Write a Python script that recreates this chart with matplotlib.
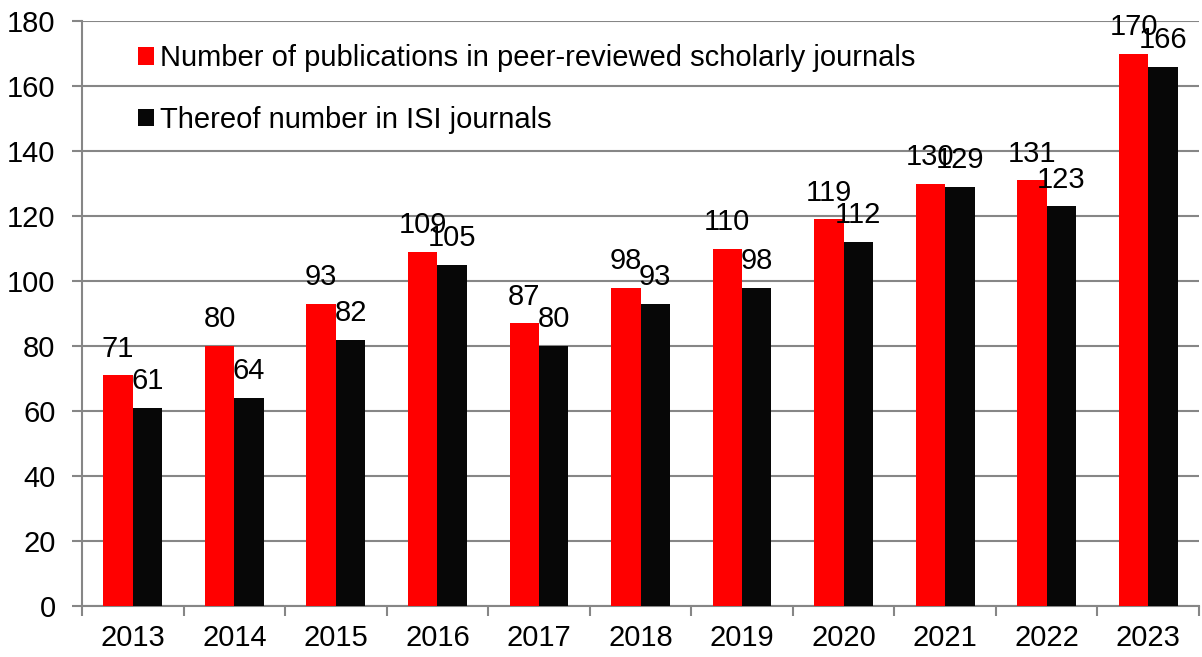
import matplotlib.pyplot as plt
import numpy as np

years = ["2013", "2014", "2015", "2016", "2017", "2018", "2019", "2020", "2021", "2022", "2023"]
peer_reviewed = [71, 80, 93, 109, 87, 98, 110, 119, 130, 131, 170]
isi_journals = [61, 64, 82, 105, 80, 93, 98, 112, 129, 123, 166]

plt.rcParams["font.family"] = ["Liberation Sans", "DejaVu Sans"]

fig = plt.figure(figsize=(12.02, 6.57), dpi=100)
ax = fig.add_axes([82 / 1202, 1 - 606 / 657, (1199 - 82) / 1202, (606 - 21) / 657])

x = np.arange(len(years))
w = 0.29
bars_red = ax.bar(x - w / 2, peer_reviewed, w, color="#ff0000", zorder=3,
                  label="Number of publications in peer-reviewed scholarly journals")
bars_blk = ax.bar(x + w / 2, isi_journals, w, color="#070707", zorder=3,
                  label="Thereof number in ISI journals")

for bars, vals in ((bars_red, peer_reviewed), (bars_blk, isi_journals)):
    for b, v in zip(bars, vals):
        ax.annotate(str(v), (b.get_x() + b.get_width() / 2, v), xytext=(0, 9),
                    textcoords="offset points", ha="center", va="bottom",
                    fontsize=21, zorder=4)

ax.set_xlim(-0.5, len(years) - 0.5)
ax.set_ylim(0, 180)
ax.set_yticks(range(0, 181, 20))
ax.set_xticks(x)
ax.set_xticklabels(years)
ax.set_xticks(np.arange(-0.5, len(years)), minor=True)
ax.tick_params(axis="x", which="major", length=0, labelsize=21, pad=13)
ax.tick_params(axis="x", which="minor", length=7, color="#868686", width=1.5)
ax.tick_params(axis="y", length=7, color="#868686", width=1.5, labelsize=21, pad=12)

ax.yaxis.grid(True, color="#868686", linewidth=1.5, zorder=0)
for side in ("top", "right"):
    ax.spines[side].set_visible(False)
for side in ("left", "bottom"):
    ax.spines[side].set_color("#868686")
    ax.spines[side].set_linewidth(1.5)

ax.legend(loc="upper left", bbox_to_anchor=(0.04, 0.98), frameon=False,
          fontsize=21, handlelength=0.55, handleheight=0.55, handletextpad=0.2,
          labelspacing=1.15, borderaxespad=0)

fig.savefig("out.png", dpi=100)
